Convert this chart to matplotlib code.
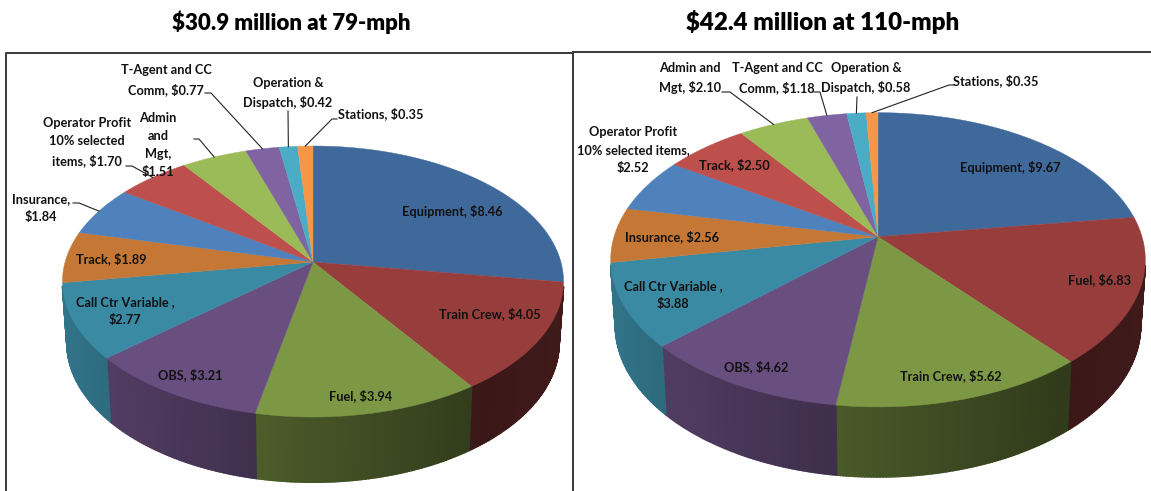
import numpy as np
import matplotlib
matplotlib.use('Agg')
import matplotlib.pyplot as plt

plt.rcParams['font.family'] = ['Lato', 'DejaVu Sans']

# Values ($ million), clockwise from 12 o'clock
names_79 = ['Equipment', 'Train Crew', 'Fuel', 'OBS', 'Call Ctr Variable', 'Track', 'Insurance',
            'Operator Profit', 'Admin and Mgt', 'T-Agent and CC Comm', 'Operation & Dispatch', 'Stations']
values_79 = [8.46, 4.05, 3.94, 3.21, 2.77, 1.89, 1.84, 1.70, 1.51, 0.77, 0.42, 0.35]
names_110 = ['Equipment', 'Fuel', 'Train Crew', 'OBS', 'Call Ctr Variable', 'Insurance',
             'Operator Profit', 'Track', 'Admin and Mgt', 'T-Agent and CC Comm', 'Operation & Dispatch', 'Stations']
values_110 = [9.67, 6.83, 5.62, 4.62, 3.88, 2.56, 2.52, 2.50, 2.10, 1.18, 0.58, 0.35]

labels_79 = ['Equipment, $8.46', 'Train Crew, $4.05', 'Fuel, $3.94', 'OBS, $3.21',
             'Call Ctr Variable ,\n$2.77', 'Track, $1.89', 'Insurance,\n$1.84',
             'Operator Profit\n10% selected\nitems, $1.70', 'Admin\nand\nMgt,\n$1.51',
             'T-Agent and CC\nComm, $0.77', 'Operation &\nDispatch, $0.42', 'Stations, $0.35']
labels_110 = ['Equipment, $9.67', 'Fuel, $6.83', 'Train Crew, $5.62', 'OBS, $4.62',
              'Call Ctr Variable ,\n$3.88', 'Insurance, $2.56',
              'Operator Profit\n10% selected items,\n$2.52', 'Track, $2.50', 'Admin and\nMgt, $2.10',
              'T-Agent and CC\nComm, $1.18', 'Operation &\nDispatch, $0.58', 'Stations, $0.35']

colors = ['#3F689B', '#973E3D', '#7D9845', '#694F80', '#3B8AA3', '#C57836',
          '#4F81BD', '#BD4F4C', '#9BBB59', '#8064A2', '#4BACC6', '#F79646']

# Label centres in pixels
label_pos_79 = [(452, 211), (490, 314), (361, 396), (190, 375), (125, 311), (111, 259),
                (41, 208), (87, 142), (158, 145), (166, 80), (288, 93), (381, 114)]
label_pos_110 = [(1010, 168), (1100, 280), (951, 376), (756, 367), (673, 295), (672, 237),
                 (633, 150), (734, 165), (690, 78), (777, 78), (866, 78), (996, 81)]

# Leader lines: wedge index -> elbow points (the end on the rim comes from the values)
leaders_79 = {6: [(73, 203), (79, 203)], 7: [(126, 166), (132, 166)], 8: [(194, 139), (199, 139)],
              9: [(205, 93), (211, 93)], 10: [(288, 111)], 11: [(337, 119), (332, 119)]}
leaders_110 = {8: [(722, 92), (730, 92)], 9: [(814, 92), (820, 92)], 10: [(857, 97)],
               11: [(954, 85), (949, 85)]}

fig = plt.figure(figsize=(11.51, 4.91), dpi=100)
ax = fig.add_axes([0, 0, 1, 1])
ax.set_xlim(0, 1151)
ax.set_ylim(491, 0)
ax.axis('off')


def draw_pie(values, labels, label_pos, leaders, cx, cy, rx, sy, persp, depth, shrink):
    # perspective projection of the unit disc
    def project(theta, r=1.0):
        u = r * np.sin(theta)
        v = r * np.cos(theta)
        w = 1 + persp * v
        return cx + rx * u / w, cy - sy * v / w

    def project_bottom(theta):
        x, y = project(theta)
        y0 = cy + sy * persp / (1 - persp ** 2)
        return cx + (x - cx) * shrink, y + depth + 0.03 * (y - y0)

    edges = np.cumsum([0] + list(values)) / sum(values) * 2 * np.pi

    # side wall, shaded in thin strips; only below the widest line of the ellipse
    for i, c in enumerate(colors):
        th = np.arange(edges[i], edges[i + 1] + 0.01, 0.01)
        th = np.append(th[th < edges[i + 1]], edges[i + 1])
        for a, b in zip(th[:-1], th[1:]):
            m = (a + b) / 2
            if np.cos(m) > -persp - 0.03:
                continue
            shade = np.interp(np.sin(m), [-1, -0.25, 0.6, 1], [0.85, 0.62, 0.39, 0.42])
            col = np.array(matplotlib.colors.to_rgb(c)) * shade
            x0, y0 = project(np.array([a, b]))
            x1, y1 = project_bottom(np.array([a, b]))
            ax.fill([x0[0], x0[1], x1[1], x1[0]], [y0[0], y0[1], y1[1], y1[0]],
                    color=col, lw=1.3, zorder=1)

    # top surface
    for i, c in enumerate(colors):
        th = np.linspace(edges[i], edges[i + 1], 120)
        x, y = project(th)
        ax.fill(np.r_[cx, x], np.r_[cy, y], color=c, lw=0.3, zorder=2)

    # leader lines
    for i, pts in leaders.items():
        xe, ye = project((edges[i] + edges[i + 1]) / 2)
        xs = [p[0] for p in pts] + [xe]
        ys = [p[1] for p in pts] + [ye]
        ax.plot(xs, ys, color='#222222', lw=0.8, zorder=3)

    for t, (x, y) in zip(labels, label_pos):
        ax.text(x, y, t, ha='center', va='center', fontsize=9.2, fontweight='bold',
                color='#111111', linespacing=1.6, parse_math=False, zorder=4)


draw_pie(values_79, labels_79, label_pos_79, leaders_79,
         cx=313, cy=262, rx=247.9, sy=132.7, persp=0.144, depth=61, shrink=0.982)
draw_pie(values_110, labels_110, label_pos_110, leaders_110,
         cx=878, cy=236.7, rx=264, sy=143.5, persp=0.157, depth=65.5, shrink=0.982)

# Frames around each chart
ax.plot([6, 6, 573, 573], [491, 53, 53, 491], color='#3a3a3a', lw=1.4, zorder=5)
ax.plot([573, 1151], [52, 52], color='#3a3a3a', lw=1.4, zorder=5)

# Titles
ax.text(291, 22, '$30.9 million at 79-mph', ha='center', va='center', fontsize=16,
        fontweight='heavy', color='black', parse_math=False)
ax.text(823, 22, '$42.4 million at 110-mph', ha='center', va='center', fontsize=17.4,
        fontweight='heavy', color='black', parse_math=False)

fig.savefig('out.png', dpi=100, facecolor='white')
